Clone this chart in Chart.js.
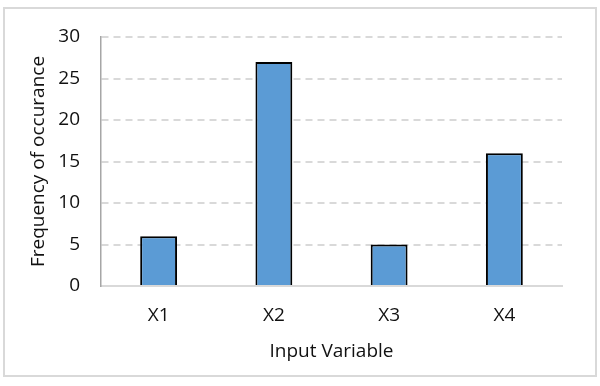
<!DOCTYPE html>
<html>
<head>
<meta charset="utf-8">
<script src="https://cdn.jsdelivr.net/npm/chart.js@4"></script>
<style>
  html, body { margin: 0; padding: 0; background: #fff; }
  #wrap { position: relative; width: 600px; height: 386px; }
  #frame { position: absolute; left: 3px; top: 7px; width: 590px; height: 366px;
           border: 2px solid #d9d9d9; pointer-events: none; }
</style>
</head>
<body>
<div id="wrap">
  <canvas id="grafico" width="600" height="386"></canvas>
  <div id="frame"></div>
</div>
<script>
const categorias = ['X1', 'X2', 'X3', 'X4'];
const frequencias = [6, 27, 5, 16];
const ticksY = [0, 5, 10, 15, 20, 25, 30];

const fonte = { family: 'Open Sans', size: 19 };
const corTexto = '#111';

new Chart(document.getElementById('grafico').getContext('2d'), {
  type: 'bar',
  data: {
    labels: categorias,
    datasets: [{
      data: frequencias,
      backgroundColor: '#5b9bd5',
      borderColor: '#000',
      borderWidth: 2,
      borderSkipped: 'bottom',
      categoryPercentage: 1,
      barPercentage: 0.32
    }]
  },
  options: {
    responsive: false,
    animation: false,
    layout: { padding: { left: 0, top: 37, right: 38, bottom: 0 } },
    plugins: { legend: { display: false }, tooltip: { enabled: false } },
    scales: {
      x: {
        grid: { display: false, drawTicks: false },
        border: { color: '#d9d9d9', width: 2 },
        ticks: { font: fonte, color: corTexto, padding: 18 },
        title: { display: true, text: 'Input Variable', font: fonte, color: corTexto,
                 padding: { top: 0, bottom: 23 } },
        afterFit: s => { s.height = 100; }
      },
      y: {
        min: 0, max: 30,
        afterBuildTicks: s => { s.ticks = ticksY.map(v => ({ value: v })); },
        grid: {
          drawTicks: false,
          color: ctx => ctx.tick && ctx.tick.value === 0 ? 'rgba(0,0,0,0)' : '#d9d9d9',
          lineWidth: 2
        },
        // em v4, border.dash define o tracejado das linhas de grade
        border: { color: '#a6a6a6', width: 1.5, dash: [7, 5] },
        ticks: { font: fonte, color: corTexto, padding: 21 },
        title: { display: true, text: 'Frequency of occurance', font: fonte, color: corTexto,
                 padding: { top: 27, bottom: 0 } },
        afterFit: s => { s.width = 101; }
      }
    }
  }
});
</script>
</body>
</html>
